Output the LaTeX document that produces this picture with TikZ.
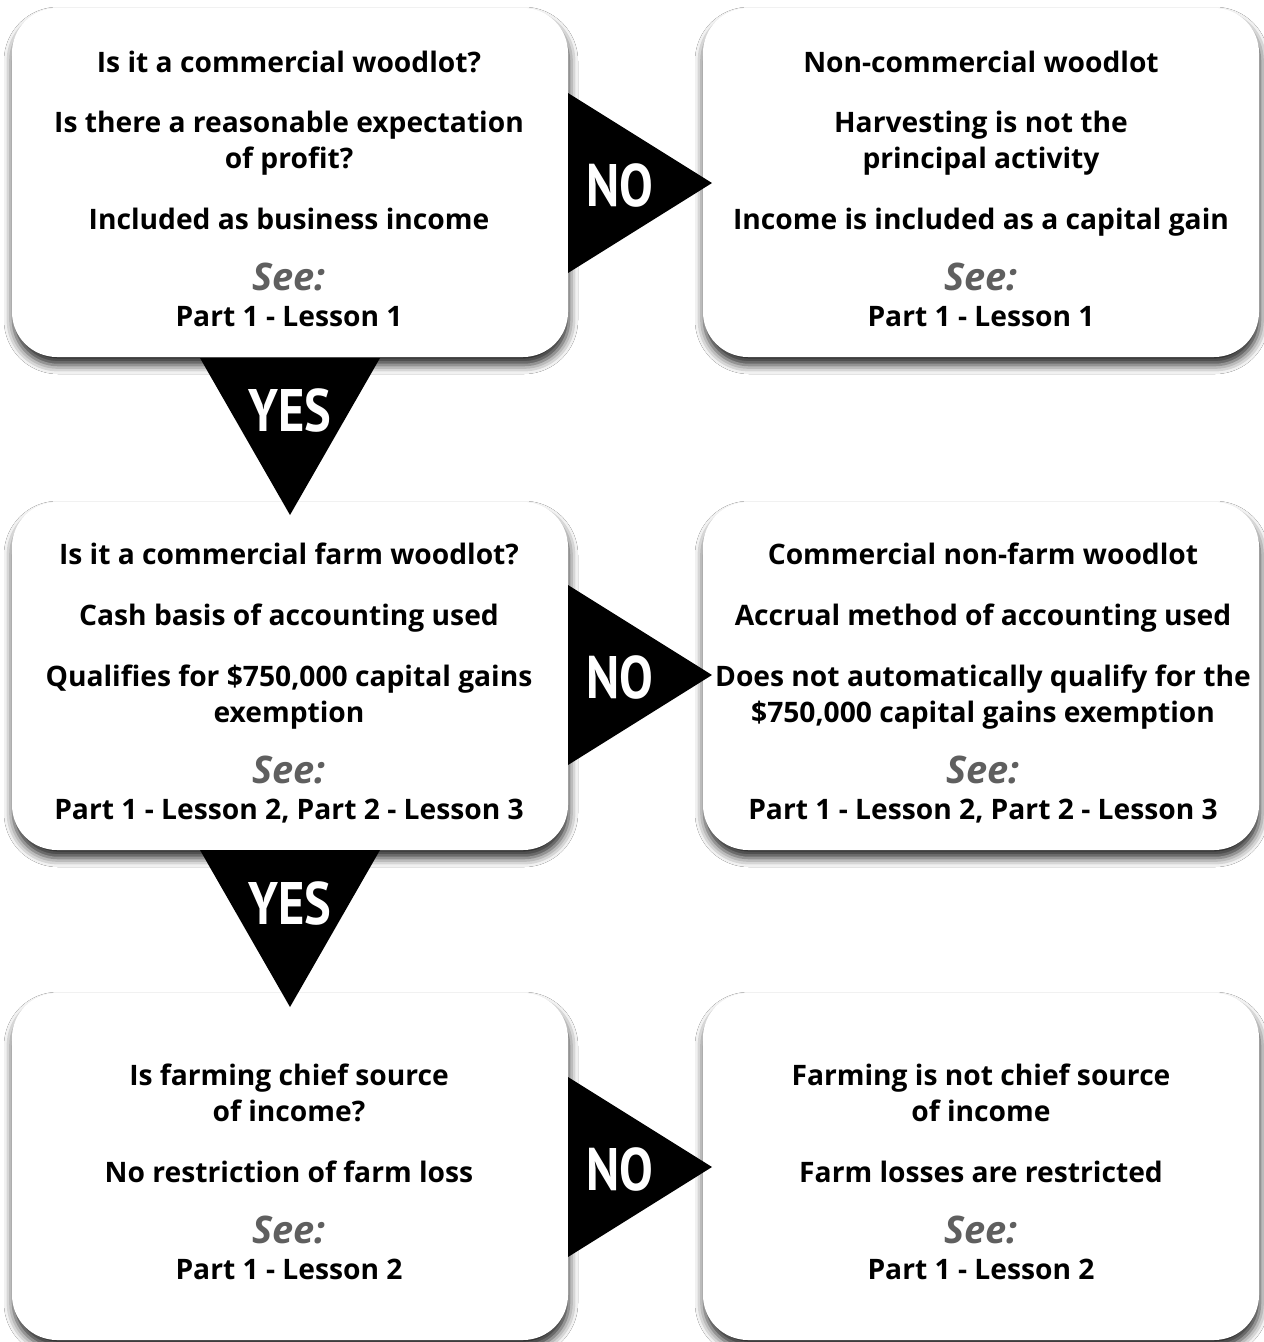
\documentclass[tikz,border=0pt]{standalone}
\usepackage{fontspec}
\setmainfont{Open Sans}
\newfontfamily\condfont[FakeStretch=0.84]{PT Sans Bold}
\usetikzlibrary{shadows.blur}
\definecolor{seegray}{HTML}{5F5F5F}
\tikzset{
  box/.style={fill=white, rounded corners=45pt,
    blur shadow={shadow xshift=1pt, shadow yshift=-8pt, shadow blur radius=9pt, shadow opacity=85}},
  tri/.style={fill=black},
  txt/.style={anchor=base, inner sep=0pt, font=\fontsize{28.2}{36}\selectfont\bfseries},
  see/.style={anchor=base, inner sep=0pt, text=seegray, font=\fontsize{38}{44}\selectfont\bfseries\itshape},
  lab/.style={text=white, inner sep=0pt, font=\fontsize{60}{60}\selectfont\condfont}
}
\begin{document}
\begin{tikzpicture}[x=1pt,y=-1pt]
\useasboundingbox (0,0) rectangle (1264,1342);
\fill[white] (0,0) rectangle (1264,1342);
% boxes
\path[box] (12,8) rectangle (568,357);
\path[box] (703,8) rectangle (1259,357);
\path[box] (12,502) rectangle (568,850);
\path[box] (703,502) rectangle (1259,850);
\path[box] (12,993) rectangle (568,1340);
\path[box] (703,993) rectangle (1259,1340);
% NO triangles
\fill[tri] (568,93) -- (712,183) -- (568,273) -- cycle;
\fill[tri] (568,585) -- (712,675) -- (568,765) -- cycle;
\fill[tri] (568,1077) -- (712,1167) -- (568,1257) -- cycle;
% YES triangles
\fill[tri] (200,358) -- (380,358) -- (290,515) -- cycle;
\fill[tri] (200,850) -- (380,850) -- (290,1007) -- cycle;
\node[lab] (no1) at (620,185) {NO};
\node[lab] (no2) at (620,677) {NO};
\node[lab] (no3) at (620,1169) {NO};
\node[lab] (yes1) at (290,410) {YES};
\node[lab] (yes2) at (290,903) {YES};
% row 1 left
\node[txt] (a1) at (289,72) {Is it a commercial woodlot?};
\node[txt] (a2) at (289,132) {Is there a reasonable expectation};
\node[txt] (a3) at (289,168) {of profit?};
\node[txt] (a4) at (289,229) {Included as business income};
\node[see] (a5) at (289,290) {See:};
\node[txt] (a6) at (289,326) {Part 1 - Lesson 1};
% row 1 right
\node[txt] (b1) at (981,72) {Non-commercial woodlot};
\node[txt] (b2) at (981,132) {Harvesting is not the};
\node[txt] (b3) at (981,168) {principal activity};
\node[txt] (b4) at (981,229) {Income is included as a capital gain};
\node[see] (b5) at (981,290) {See:};
\node[txt] (b6) at (981,326) {Part 1 - Lesson 1};
% row 2 left
\node[txt] (c1) at (289,564) {Is it a commercial farm woodlot?};
\node[txt] (c2) at (289,625) {Cash basis of accounting used};
\node[txt] (c3) at (289,686) {Qualifies for \$750,000 capital gains};
\node[txt] (c4) at (289,722) {exemption};
\node[see] (c5) at (289,783) {See:};
\node[txt] (c6) at (289,819) {Part 1 - Lesson 2, Part 2 - Lesson 3};
% row 2 right
\node[txt] (d1) at (983,564) {Commercial non-farm woodlot};
\node[txt] (d2) at (983,625) {Accrual method of accounting used};
\node[txt] (d3) at (983,686) {Does not automatically qualify for the};
\node[txt] (d4) at (983,722) {\$750,000 capital gains exemption};
\node[see] (d5) at (983,783) {See:};
\node[txt] (d6) at (983,819) {Part 1 - Lesson 2, Part 2 - Lesson 3};
% row 3 left
\node[txt] (e1) at (289,1085) {Is farming chief source};
\node[txt] (e2) at (289,1121) {of income?};
\node[txt] (e3) at (289,1182) {No restriction of farm loss};
\node[see] (e4) at (289,1243) {See:};
\node[txt] (e5) at (289,1279) {Part 1 - Lesson 2};
% row 3 right
\node[txt] (f1) at (981,1085) {Farming is not chief source};
\node[txt] (f2) at (981,1121) {of income};
\node[txt] (f3) at (981,1182) {Farm losses are restricted};
\node[see] (f4) at (981,1243) {See:};
\node[txt] (f5) at (981,1279) {Part 1 - Lesson 2};
\end{tikzpicture}
\end{document}
